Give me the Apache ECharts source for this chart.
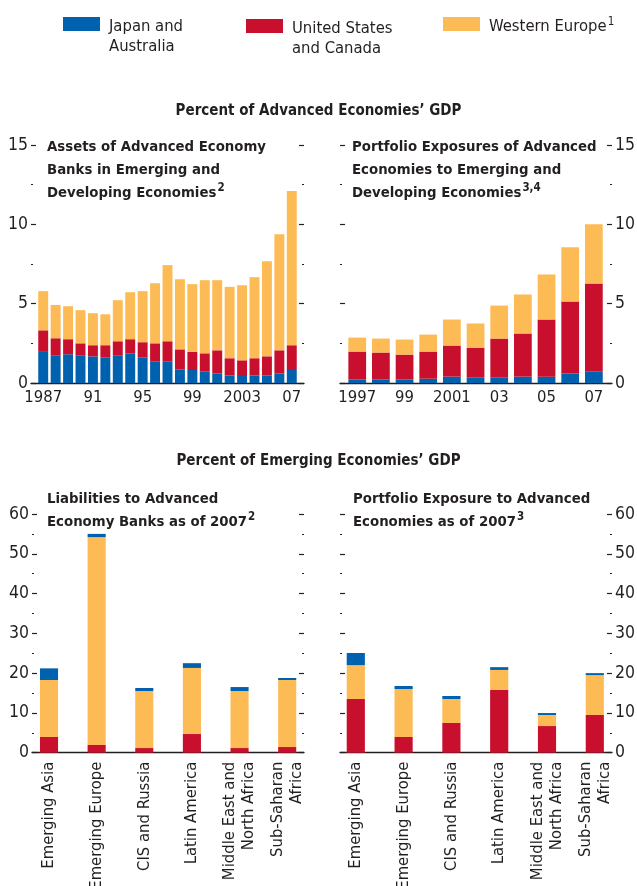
<!DOCTYPE html>
<html><head><meta charset="utf-8">
<script src="https://cdn.jsdelivr.net/npm/echarts@6/dist/echarts.min.js"></script>
<style>html,body{margin:0;padding:0;background:#fff}#c{width:637px;height:886px}</style>
</head><body><div id="c"></div>
<script>
// ---------- DATA ----------
const seriesNames = ['Japan and Australia', 'United States and Canada', 'Western Europe'];
const seriesColors = ['#0061AE', '#C8102E', '#FDBB55'];

// Top-left: Assets of advanced economy banks in EM (percent of advanced GDP)
const yearsTL = ['1987','1988','1989','1990','1991','1992','1993','1994','1995','1996','1997',
                 '1998','1999','2000','2001','2002','2003','2004','2005','2006','2007'];
const tickLabelsTL = ['1987','91','95','99','2003','07'];
const jpTL = [1.96,1.75,1.81,1.75,1.68,1.62,1.75,1.87,1.62,1.37,1.37,0.86,0.82,0.74,0.61,0.48,0.44,0.48,0.48,0.61,0.82];
const usTL = [1.36,1.07,0.95,0.75,0.70,0.76,0.88,0.89,0.95,1.13,1.26,1.26,1.14,1.13,1.45,1.08,0.99,1.08,1.20,1.45,1.56];
const weTL = [2.47,2.10,2.08,2.09,2.02,1.95,2.59,2.96,3.22,3.79,4.80,4.42,4.27,4.61,4.42,4.50,4.73,5.11,6.00,7.32,9.72];

// Top-right: Portfolio exposures of advanced economies to EM
const yearsTR = ['1997','1998','1999','2000','2001','2002','2003','2004','2005','2006','2007'];
const tickLabelsTR = ['1997','99','2001','03','05','07'];
const jpTR = [0.23,0.23,0.23,0.27,0.40,0.36,0.36,0.40,0.40,0.61,0.74];
const usTR = [1.75,1.69,1.56,1.71,1.96,1.87,2.44,2.72,3.60,4.53,5.53];
const weTR = [0.88,0.88,0.95,1.07,1.64,1.52,2.08,2.46,2.84,3.41,3.73];

// Bottom panels (percent of emerging economies' GDP)
const regions = ['Emerging Asia','Emerging Europe','CIS and Russia','Latin America',
                 'Middle East and\nNorth Africa','Sub-Saharan\nAfrica'];
const usBL = [3.94,1.93,1.17,4.69,1.17,1.42];
const weBL = [14.33,52.27,14.33,16.61,14.33,16.85];
const jpBL = [2.93,0.80,0.76,1.20,1.00,0.51];

const usBR = [13.50,3.94,7.46,15.76,6.70,9.47];
const weBR = [8.50,12.06,6.04,5.04,2.77,10.03];
const jpBR = [3.06,0.76,0.75,0.70,0.50,0.50];

const topTicks = {max: 15, interval: 5};
const botTicks = {max: 60, interval: 10};

// ---------- STYLE ----------
const INK = '#231f20';
const REG = '"DejaVu Sans Condensed", "DejaVu Sans", sans-serif';
const BOLD = '"DejaVu Sans Condensed", "DejaVu Sans", sans-serif';
const FS = 16.5;

const option = {
  animation: false,
  backgroundColor: '#fff',
  title: [],
  legend: [],
  grid: [],
  xAxis: [],
  yAxis: [],
  series: []
};

function addPanel(cfg) {
  const gi = option.grid.length;
  option.grid.push({left: cfg.bar[0], width: cfg.bar[1], top: cfg.top, height: cfg.height,
                    containLabel: false, outerBoundsMode: 'none'});
  option.grid.push({left: cfg.frame[0], width: cfg.frame[1], top: cfg.top, height: cfg.height,
                    containLabel: false, outerBoundsMode: 'none'});
  const xb = option.xAxis.length;
  option.xAxis.push({
    type: 'category', gridIndex: gi, data: cfg.cats,
    axisLine: {show: false}, axisTick: {show: false},
    axisLabel: Object.assign({interval: 0, color: INK, fontFamily: REG, fontSize: FS}, cfg.xLabel)
  });
  option.xAxis.push({
    type: 'value', gridIndex: gi + 1, min: 0, max: 1,
    axisLine: {show: true, onZero: false, lineStyle: {color: INK, width: 1.4}},
    axisTick: {show: false}, axisLabel: {show: false}, splitLine: {show: false}
  });
  const yb = option.yAxis.length;
  option.yAxis.push({type: 'value', gridIndex: gi, min: 0, max: cfg.ticks.max, show: false});
  ['left', 'right'].forEach(pos => {
    option.yAxis.push({
      type: 'value', gridIndex: gi + 1, position: pos, offset: -5,
      min: 0, max: cfg.ticks.max, interval: cfg.ticks.interval,
      axisLine: {show: false},
      axisTick: {show: true, length: 5, lineStyle: {color: INK, width: 1.2}},
      axisLabel: {show: pos === 'left' ? cfg.leftLabels : !cfg.leftLabels,
                  margin: 8, color: INK, fontFamily: REG, fontSize: 17.5},
      splitLine: {show: false}
    });
    option.yAxis.push({
      type: 'value', gridIndex: gi + 1, position: pos, offset: -2,
      min: 0, max: cfg.ticks.max, interval: cfg.ticks.interval / 2,
      axisLine: {show: false},
      axisTick: {show: true, length: 2, lineStyle: {color: INK, width: 1.2}},
      axisLabel: {show: false}, splitLine: {show: false}
    });
  });
  cfg.stack.forEach(([idx, data]) => {
    option.series.push({
      type: 'bar', name: seriesNames[idx], xAxisIndex: xb, yAxisIndex: yb,
      stack: 'p' + gi, data: data, barCategoryGap: cfg.gap,
      itemStyle: {color: seriesColors[idx]}
    });
  });
}

addPanel({
  bar: [37, 261], frame: [31, 273], top: 145, height: 238,
  cats: yearsTL, ticks: topTicks, leftLabels: true, gap: '20%',
  xLabel: {margin: 6, formatter: (v, i) => (i % 4 === 0 ? tickLabelsTL[i / 4] : '')},
  stack: [[0, jpTL], [1, usTL], [2, weTL]]
});
addPanel({
  bar: [345.4, 260.3], frame: [340, 272], top: 145, height: 238,
  cats: yearsTR, ticks: topTicks, leftLabels: false, gap: '25%',
  xLabel: {margin: 6, formatter: (v, i) => (i % 2 === 0 ? tickLabelsTR[i / 2] : '')},
  stack: [[0, jpTR], [1, usTR], [2, weTR]]
});
addPanel({
  bar: [25.2, 285.8], frame: [32, 272], top: 514, height: 238.7,
  cats: regions, ticks: botTicks, leftLabels: true, gap: '62%',
  xLabel: {margin: 9, rotate: 90, fontSize: FS, lineHeight: 19},
  stack: [[1, usBL], [2, weBL], [0, jpBL]]
});
addPanel({
  bar: [331.9, 286.8], frame: [340, 272], top: 514, height: 238.7,
  cats: regions, ticks: botTicks, leftLabels: false, gap: '62%',
  xLabel: {margin: 9, rotate: 90, fontSize: FS, lineHeight: 19},
  stack: [[1, usBR], [2, weBR], [0, jpBR]]
});

const supRich = {s: {fontFamily: BOLD, fontWeight: 'bold', fontSize: 11.5, color: INK, padding: [0, 0, 10, 1]}};
function panelTitle(text, left, top) {
  return {text, left, top, padding: 0,
          textStyle: {fontFamily: BOLD, fontWeight: 'bold', fontSize: 14.8, lineHeight: 23, color: INK, rich: supRich}};
}
option.title = [
  {text: 'Percent of Advanced Economies’ GDP', left: 'center', top: 101, padding: 0,
   textStyle: {fontFamily: BOLD, fontWeight: 'bold', fontSize: 15, lineHeight: 20, color: INK}},
  {text: 'Percent of Emerging Economies’ GDP', left: 'center', top: 451, padding: 0,
   textStyle: {fontFamily: BOLD, fontWeight: 'bold', fontSize: 15, lineHeight: 20, color: INK}},
  panelTitle('Assets of Advanced Economy\nBanks in Emerging and\nDeveloping Economies{s|2}', 47, 136),
  panelTitle('Portfolio Exposures of Advanced\nEconomies to Emerging and\nDeveloping Economies{s|3,4}', 352, 136),
  panelTitle('Liabilities to Advanced\nEconomy Banks as of 2007{s|2}', 47, 488),
  panelTitle('Portfolio Exposure to Advanced\nEconomies as of 2007{s|3}', 353, 488)
];

function legendItem(idx, left, top, twoLine) {
  return {
    data: [seriesNames[idx]], left, top, padding: 0, orient: 'horizontal',
    itemWidth: 37, itemHeight: 14, icon: 'rect', selectedMode: false,
    formatter: name => twoLine ? name.replace(/ and /, twoLine === 1 ? ' and\n' : '\nand ') : name + '{s|1}',
    textStyle: {fontFamily: REG, fontSize: FS, lineHeight: 20, color: INK,
                padding: twoLine ? [26, 0, 0, 4] : [6, 0, 0, 4],
                rich: {s: {fontFamily: REG, fontSize: 11.5, color: INK, padding: [0, 0, 10, 1]}}}
  };
}
option.legend = [
  legendItem(0, 63, -9, 1),
  legendItem(1, 246, -7, 2),
  legendItem(2, 443, 11, 0)
];

const chart = echarts.init(document.getElementById('c'), null, {renderer: 'canvas'});
chart.setOption(option);
</script>
</body></html>
